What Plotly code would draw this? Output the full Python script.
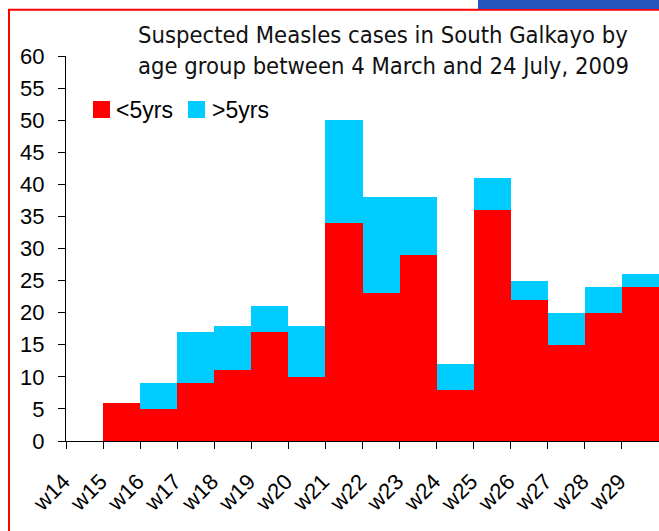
import plotly.graph_objects as go

# Weekly suspected measles cases, South Galkayo, 2009
weeks = ["w14", "w15", "w16", "w17", "w18", "w19", "w20", "w21",
         "w22", "w23", "w24", "w25", "w26", "w27", "w28", "w29"]
under_5 = [0, 6, 5, 9, 11, 17, 10, 34, 23, 29, 8, 36, 22, 15, 20, 24]
over_5 = [0, 0, 4, 8, 7, 4, 8, 16, 15, 9, 4, 5, 3, 5, 4, 2]
series_names = ["<5yrs", ">5yrs"]
series_colors = ["#FF0000", "#00CCFF"]
y_ticks = list(range(0, 61, 5))

W, H = 659, 531
L, R, T, B = 66, 0, 56, 90
PW, PH = W - L - R, H - T - B


def px(x):
    """Pixel column -> paper x."""
    return (x - L) / PW


def py(y):
    """Pixel row -> paper y."""
    return (H - B - y) / PH


AX_FONT = dict(family="Liberation Sans, Arial, sans-serif", size=22, color="#000000")

fig = go.Figure()
for name, vals, col in zip(series_names, [under_5, over_5], series_colors):
    fig.add_trace(go.Bar(x=weeks, y=vals, name=name, marker=dict(color=col, line=dict(width=0)),
                         showlegend=False))

fig.update_layout(
    width=W, height=H, autosize=False,
    margin=dict(l=L, r=R, t=T, b=B, pad=0),
    barmode="stack", bargap=0,
    paper_bgcolor="#FFFFFF", plot_bgcolor="#FFFFFF",
    xaxis=dict(
        type="category", range=[-0.5, len(weeks) - 0.5],
        showline=True, linecolor="#000000", linewidth=1,
        ticks="outside", tickson="boundaries", ticklen=7, tickcolor="#000000", tickwidth=1,
        tickangle=-45, tickfont=AX_FONT, showgrid=False, zeroline=False,
        ticklabelstandoff=18, ticklabelshift=-21,
    ),
    yaxis=dict(
        range=[0, 60], tickvals=y_ticks,
        showline=True, linecolor="#000000", linewidth=1,
        ticks="outside", ticklen=7, tickcolor="#000000", tickwidth=1,
        tickfont=AX_FONT, showgrid=False, zeroline=False,
        ticklabelstandoff=9,
    ),
)

shapes = [
    # outer frame
    dict(type="rect", xref="paper", yref="paper",
         x0=px(9), x1=px(W + 20), y0=py(H + 20), y1=py(9.7),
         line=dict(color="#FF0000", width=2), fillcolor="rgba(0,0,0,0)", layer="above"),
    # header strip
    dict(type="rect", xref="paper", yref="paper",
         x0=px(478), x1=px(W + 20), y0=py(9), y1=py(-10),
         line=dict(width=0), fillcolor="#2456BD", layer="above"),
]
# legend swatches
for i, col in enumerate(series_colors):
    x0 = [93, 188][i]
    shapes.append(dict(type="rect", xref="paper", yref="paper",
                       x0=px(x0), x1=px(x0 + 17), y0=py(118), y1=py(101),
                       line=dict(width=0), fillcolor=col))

annotations = [
    dict(text="Suspected Measles cases in South Galkayo by<br>age group between 4 March and 24 July, 2009",
         xref="paper", yref="paper", x=px(136), y=py(19), xanchor="left", yanchor="top",
         align="left", showarrow=False,
         font=dict(family="DejaVu Sans Condensed, DejaVu Sans, sans-serif", size=23.6, color="#111111")),
]
for i, name in enumerate(series_names):
    annotations.append(dict(text=name, xref="paper", yref="paper",
                            x=px([114, 210][i]), y=py(109.5), xanchor="left", yanchor="middle",
                            showarrow=False, font=dict(family="Liberation Sans, Arial, sans-serif",
                                                       size=23, color="#000000")))

fig.update_layout(shapes=shapes, annotations=annotations)
fig.write_html("out.html", config={"displayModeBar": False})
